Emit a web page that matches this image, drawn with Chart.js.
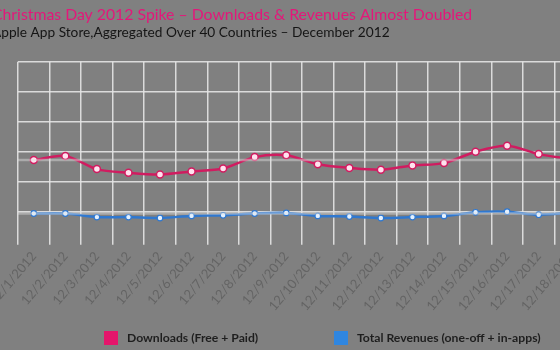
<!DOCTYPE html>
<html>
<head>
<meta charset="utf-8">
<title>App Store December 2012</title>
<script src="https://cdn.jsdelivr.net/npm/chart.js@4"></script>
<style>
  html, body { margin: 0; padding: 0; background: #808080; overflow: hidden; }
  #wrap { position: relative; width: 560px; height: 350px; overflow: hidden; }
  #chart { position: absolute; left: -8px; top: 0; }
</style>
</head>
<body>
<div id="wrap"><canvas id="chart" width="600" height="350"></canvas></div>
<script>
// daily values, index scale (no axis labels are shown)
const days = ['12/1/2012', '12/2/2012', '12/3/2012', '12/4/2012', '12/5/2012', '12/6/2012',
              '12/7/2012', '12/8/2012', '12/9/2012', '12/10/2012', '12/11/2012', '12/12/2012',
              '12/13/2012', '12/14/2012', '12/15/2012', '12/16/2012', '12/17/2012', '12/18/2012'];
const downloads = [136, 143, 121, 115, 112, 117, 122, 141, 144, 129, 123, 120, 127, 131, 150, 160, 146, 138];
const revenues = [47, 47, 41, 41, 39.5, 43, 44, 47, 48, 43, 42, 39.5, 41, 43, 49, 50, 45, 48];
const seriesNames = ['Downloads (Free + Paid)', 'Total Revenues (one-off + in-apps)'];
const titleText = 'Christmas Day 2012 Spike – Downloads & Revenues Almost Doubled';
const subtitleText = 'Apple App Store,Aggregated Over 40 Countries – December 2012';

const PINK = '#d01c60';
const BLUE = '#2f78d0';
const FONT = 'Lato, "Open Sans", sans-serif';

// light line across the plot at each series' first-day level
const baselinePlugin = {
    id: 'baseline',
    afterDatasetsDraw(chart) {
        const { ctx, chartArea, scales } = chart;
        ctx.save();
        ctx.strokeStyle = 'rgba(225, 225, 225, 0.45)';
        ctx.lineWidth = 2.5;
        chart.data.datasets.forEach(ds => {
            const y = scales.y.getPixelForValue(ds.data[0]);
            ctx.beginPath();
            ctx.moveTo(chartArea.left, y);
            ctx.lineTo(chartArea.right, y);
            ctx.stroke();
        });
        ctx.restore();
    }
};

// square swatches + names along the bottom
const bottomLegend = {
    id: 'bottomLegend',
    afterDraw(chart, args, opts) {
        const { ctx } = chart;
        ctx.save();
        ctx.font = opts.font;
        ctx.textBaseline = 'middle';
        chart.data.datasets.forEach((ds, i) => {
            const x = opts.starts[i];
            ctx.fillStyle = opts.swatches[i];
            ctx.fillRect(x, opts.y - 7, 14, 14);
            ctx.fillStyle = '#1e1e1e';
            ctx.fillText(ds.label, x + 23, opts.y);
        });
        ctx.restore();
    }
};

const config = {
    type: 'line',
    data: {
        labels: days,
        datasets: [
            {
                label: seriesNames[0],
                data: downloads,
                borderColor: PINK,
                borderWidth: 2.5,
                tension: 0.3,
                pointRadius: 3.5,
                pointBorderWidth: 1.5,
                pointBackgroundColor: '#ffe2ee',
                pointBorderColor: PINK
            },
            {
                label: seriesNames[1],
                data: revenues,
                borderColor: BLUE,
                borderWidth: 2.5,
                tension: 0.3,
                pointRadius: 2.8,
                pointBorderWidth: 1.2,
                pointBackgroundColor: '#e4f1ff',
                pointBorderColor: BLUE
            }
        ]
    },
    options: {
        responsive: false,
        animation: false,
        layout: { autoPadding: false, padding: { left: 0, right: 6, top: 0, bottom: 0 } },
        plugins: {
            legend: { display: false },
            tooltip: { enabled: false },
            title: {
                display: true,
                text: titleText,
                align: 'start',
                color: '#e3177a',
                font: { family: FONT, size: 15.8, weight: 'normal' },
                padding: { top: 5.5, bottom: 0 }
            },
            subtitle: {
                display: true,
                text: subtitleText,
                align: 'start',
                color: '#151515',
                font: { family: FONT, size: 13.7, weight: 'normal' },
                padding: { top: 0, bottom: 20.8 }
            },
            bottomLegend: {
                y: 338,
                starts: [112, 342],
                swatches: ['#e4156b', '#2f86e0'],
                font: 'bold 12.2px ' + FONT
            }
        },
        scales: {
            x: {
                offset: true,
                grid: { offset: true, color: 'rgba(228, 228, 228, 0.9)', lineWidth: 1.5, tickLength: 3 },
                border: { display: false },
                ticks: {
                    autoSkip: false,
                    minRotation: 50,
                    maxRotation: 50,
                    padding: 4,
                    color: '#646464',
                    font: { family: FONT, size: 13 }
                },
                // keep the plot edge fixed; the first rotated label may run off the left side
                afterFit: scale => {
                    scale.height = 108.3;
                    scale.paddingLeft = 0;
                    scale.paddingRight = 0;
                }
            },
            y: {
                min: 0,
                max: 300,
                grid: {
                    color: ctx => ctx.tick.value === 0 ? 'rgba(0,0,0,0)' : 'rgba(228, 228, 228, 0.9)',
                    lineWidth: 1.5,
                    drawTicks: false
                },
                border: { display: false },
                ticks: { display: false, stepSize: 50 },
                afterFit: scale => { scale.width = 26; }
            }
        }
    },
    plugins: [baselinePlugin, bottomLegend]
};

new Chart(document.getElementById('chart'), config);
</script>
</body>
</html>
